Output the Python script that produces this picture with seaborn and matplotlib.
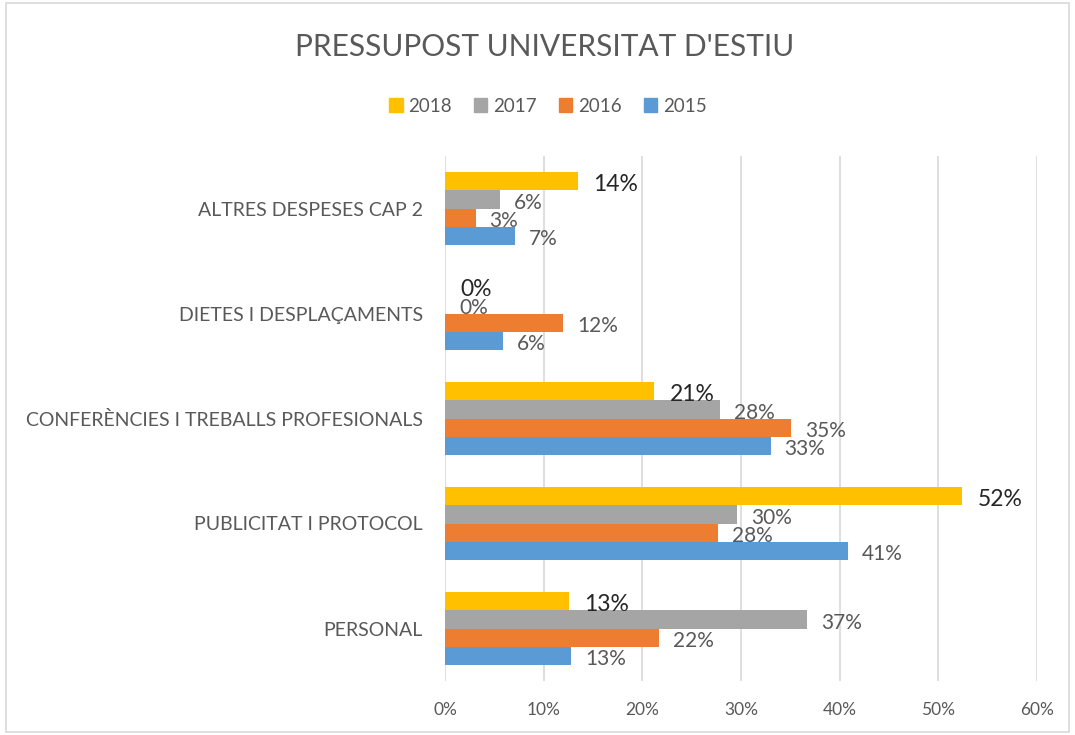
import matplotlib
matplotlib.use("Agg")
import matplotlib.pyplot as plt
import seaborn as sns
import pandas as pd
from matplotlib.patches import Rectangle
from matplotlib.ticker import FuncFormatter

categories = ["ALTRES DESPESES CAP 2", "DIETES I DESPLAÇAMENTS",
              "CONFERÈNCIES I TREBALLS PROFESIONALS", "PUBLICITAT I PROTOCOL", "PERSONAL"]
years = ["2018", "2017", "2016", "2015"]
v2018 = [13.5, 0.0, 21.2, 52.4, 12.6]
v2017 = [5.6, 0.0, 27.9, 29.6, 36.7]
v2016 = [3.1, 12.0, 35.1, 27.7, 21.7]
v2015 = [7.1, 5.9, 33.0, 40.8, 12.8]
colors = ["#FFC000", "#A5A5A5", "#ED7D31", "#5B9BD5"]
xticks = [0, 10, 20, 30, 40, 50, 60]

rows = []
for yr, vals in zip(years, [v2018, v2017, v2016, v2015]):
    for c, v in zip(categories, vals):
        rows.append({"cat": c, "year": yr, "val": v})
df = pd.DataFrame(rows)

sns.set_theme(style="white")
plt.rcParams['font.family'] = ['Lato', 'DejaVu Sans']

fig = plt.figure(figsize=(10.75, 7.35), dpi=100)
ax = fig.add_axes([445/1075, 1-681/735, 592/1075, 525/735])

sns.barplot(data=df, x="val", y="cat", hue="year", order=categories, hue_order=years,
            palette=colors, orient="h", width=0.69, ax=ax, saturation=1, legend=False,
            edgecolor="none")

ax.set_xlim(0, 60)
ax.set_xticks(xticks)
ax.xaxis.set_major_formatter(FuncFormatter(lambda v, p: f"{int(v)}%"))
ax.grid(axis="x", color="#D9D9D9", lw=1.2)
ax.grid(axis="y", visible=False)
ax.set_axisbelow(True)
for s in ax.spines.values():
    s.set_visible(False)
ax.set_xlabel("")
ax.set_ylabel("")
ax.tick_params(axis="x", colors="#595959", labelsize=12.5, length=0, pad=15)
ax.tick_params(axis="y", colors="#595959", labelsize=14, length=0, pad=16)

for i, cont in enumerate(ax.containers):
    vals = [v2018, v2017, v2016, v2015][i]
    lbls = [f"{round(v)}%" for v in vals]
    if i == 0:
        anns = ax.bar_label(cont, labels=lbls, padding=11, color="#262626", fontsize=16.5)
    else:
        anns = ax.bar_label(cont, labels=lbls, padding=10, color="#595959", fontsize=15)
    for a in anns:
        a.xyann = (a.xyann[0], -2.5)
        a.set_va("center")

fig.text(545/1075, 1-47/735, "PRESSUPOST UNIVERSITAT D'ESTIU", ha="center", va="center",
         fontsize=21.5, color="#595959")

handles = [Rectangle((0, 0), 1, 1, color=c) for c in colors]
fig.legend(handles, years, loc="center", bbox_to_anchor=(548/1075, 1-106/735), ncol=4,
           frameon=False, handlelength=0.7, handleheight=0.7, handletextpad=0.3,
           columnspacing=1.2, fontsize=13.5, labelcolor="#595959")

fig.patches.append(Rectangle((0.006, 0.004), 0.988, 0.992, transform=fig.transFigure,
                             fill=False, edgecolor="#D9D9D9", lw=1.2))

fig.savefig("out.png", dpi=100)
